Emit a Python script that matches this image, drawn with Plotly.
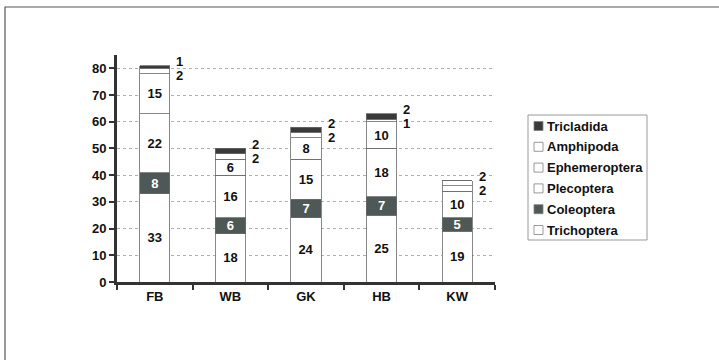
import plotly.graph_objects as go

# Sites and taxa counts (stacked bottom -> top)
sites = ["FB", "WB", "GK", "HB", "KW"]
trichoptera = [33, 18, 24, 25, 19]
coleoptera = [8, 6, 7, 7, 5]
plecoptera = [22, 16, 15, 18, 10]
ephemeroptera = [15, 6, 8, 10, 2]
amphipoda = [2, 2, 2, 1, 2]
tricladida = [1, 2, 2, 2, 0]

series = [
    ("Trichoptera", trichoptera, "#ffffff", "#111111"),
    ("Coleoptera", coleoptera, "#4e5856", "#ffffff"),
    ("Plecoptera", plecoptera, "#ffffff", "#111111"),
    ("Ephemeroptera", ephemeroptera, "#ffffff", "#111111"),
    ("Amphipoda", amphipoda, "#ffffff", "#111111"),
    ("Tricladida", tricladida, "#3a3a3a", "#ffffff"),
]

FONT = "Arial, 'Liberation Sans', sans-serif"
SMALL = 4  # segments this small are labelled beside the bar

W, H = 719, 360
ML, MR, MT, MB = 117, 224, 55, 78
PW, PH = W - ML - MR, H - MT - MB


def px(x):
    return (x - ML) / PW


def py(y):
    return (H - MB - y) / PH


fig = go.Figure()
for name, vals, fill, tcol in series:
    fig.add_trace(go.Bar(
        name=name, x=sites, y=vals,
        marker=dict(color=fill, line=dict(color="#6a6a6a", width=0.8)),
        text=[str(v) if v > SMALL else "" for v in vals],
        textposition="inside", insidetextanchor="middle", textangle=0,
        constraintext="none",
        textfont=dict(family=FONT, size=13, color=tcol),
        width=0.4, hoverinfo="skip", showlegend=False,
    ))

# small top segments labelled to the right of each bar
for i, s in enumerate(sites):
    small = [(name, vals[i]) for name, vals, _, _ in series
             if 0 < vals[i] <= SMALL]
    total = sum(vals[i] for _, vals, _, _ in series)
    small = small[::-1]  # topmost first
    for k, (name, v) in enumerate(small):
        fig.add_annotation(
            x=s, y=total, text=str(v), showarrow=False,
            xshift=25, yshift=4 - 14 * k, xanchor="center", yanchor="middle",
            font=dict(family=FONT, size=13, color="#111111"),
        )

# outer frame
fig.add_shape(type="rect", xref="paper", yref="paper",
              x0=px(5), x1=px(760), y0=py(400), y1=py(7),
              line=dict(color="#555555", width=1.2), fillcolor="rgba(0,0,0,0)")

# legend box, drawn from the series list (top entry = top of stack)
fig.add_shape(type="rect", xref="paper", yref="paper",
              x0=px(528), x1=px(647), y0=py(240), y1=py(115),
              line=dict(color="#9a9a9a", width=1), fillcolor="white")
for j, (name, vals, fill, tcol) in enumerate(series[::-1]):
    yc = 126 + 20.8 * j
    fig.add_shape(type="rect", xref="paper", yref="paper",
                  x0=px(534), x1=px(543), y0=py(yc + 4.5), y1=py(yc - 4.5),
                  line=dict(color="#808080", width=0.8), fillcolor=fill)
    fig.add_annotation(
        xref="paper", yref="paper", x=px(545), y=py(yc), text=name,
        showarrow=False, xanchor="left", yanchor="middle",
        font=dict(family=FONT, size=13, color="#111111"),
    )

fig.update_layout(
    width=W, height=H,
    margin=dict(l=ML, r=MR, t=MT, b=MB),
    barmode="stack",
    plot_bgcolor="white", paper_bgcolor="white",
    font=dict(family=FONT, size=13, color="#111111", weight="bold"),
    showlegend=False,
    xaxis=dict(
        showline=True, linecolor="#333333", linewidth=3,
        ticks="outside", tickson="boundaries", ticklen=5, tickwidth=2,
        tickcolor="#333333",
        tickfont=dict(family=FONT, size=13, color="#111111", weight="bold"),
        showgrid=False,
    ),
    yaxis=dict(
        range=[0, 85], dtick=10, tick0=0,
        showline=True, linecolor="#333333", linewidth=3,
        ticks="outside", ticklen=5, tickwidth=2, tickcolor="#333333",
        tickfont=dict(family=FONT, size=13, color="#111111", weight="bold"),
        showgrid=True, gridcolor="#b0b0b0", griddash="dot", gridwidth=1,
        zeroline=False,
    ),
)

fig.write_html("out.html")
